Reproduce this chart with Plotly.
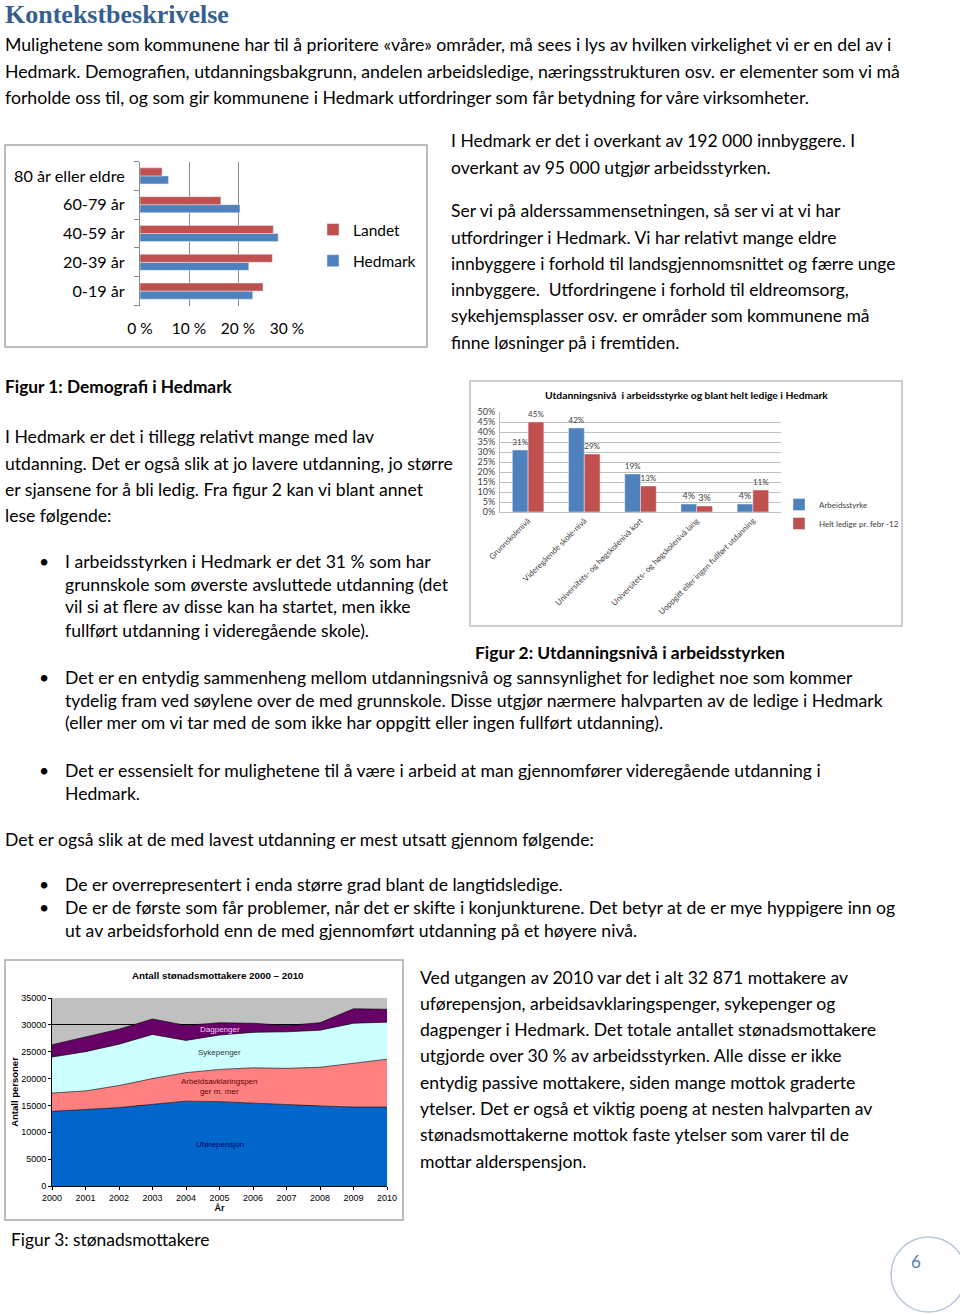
import plotly.graph_objects as go

W, H = 960, 1315
BODY = "Lato"
ARIAL = "Liberation Sans"
INK = "#000000"

# Figur 1: Demografi i Hedmark (andel av befolkningen, %)
age_groups = ["0-19 år", "20-39 år", "40-59 år", "60-79 år", "80 år eller eldre"]
landet = [25.1, 27.0, 27.2, 16.5, 4.5]
hedmark = [23.0, 22.2, 28.2, 20.4, 5.8]

# Figur 2: Utdanningsnivå (%)
edu_levels = [
    "Grunnskolenivå",
    "Videregående skole-nivå",
    "Universitets- og høgskolenivå kort",
    "Universitets- og høgskolenivå lang",
    "Uoppgitt eller ingen fullført utdanning",
]
arbeidsstyrke = [31, 42, 19, 4, 4]
helt_ledige = [45, 29, 13, 3, 11]

# Figur 3: Antall stønadsmottakere 2000-2010
years = [2000, 2001, 2002, 2003, 2004, 2005, 2006, 2007, 2008, 2009, 2010]
uforepensjon = [13900, 14200, 14600, 15200, 15800, 15700, 15400, 15100, 14900, 14700, 14700]
arbeidsavklaring = [3400, 3500, 4100, 4800, 5300, 6000, 6600, 6800, 7200, 8100, 8900]
sykepenger = [6700, 7300, 7700, 8200, 6000, 6400, 6600, 6800, 6900, 7500, 6900]
dagpenger = [2300, 2700, 2800, 2900, 2800, 2300, 1700, 1200, 1400, 2700, 2400]

intro = [
    "Mulighetene som kommunene har til å prioritere «våre» områder, må sees i lys av hvilken virkelighet vi er en del av i",
    "Hedmark. Demografien, utdanningsbakgrunn, andelen arbeidsledige, næringsstrukturen osv. er elementer som vi må",
    "forholde oss til, og som gir kommunene i Hedmark utfordringer som får betydning for våre virksomheter.",
]
right_a = [
    "I Hedmark er det i overkant av 192 000 innbyggere. I",
    "overkant av 95 000 utgjør arbeidsstyrken.",
]
right_b = [
    "Ser vi på alderssammensetningen, så ser vi at vi har",
    "utfordringer i Hedmark. Vi har relativt mange eldre",
    "innbyggere i forhold til landsgjennomsnittet og færre unge",
    "innbyggere.  Utfordringene i forhold til eldreomsorg,",
    "sykehjemsplasser osv. er områder som kommunene må",
    "finne løsninger på i fremtiden.",
]
left_a = [
    "I Hedmark er det i tillegg relativt mange med lav",
    "utdanning. Det er også slik at jo lavere utdanning, jo større",
    "er sjansene for å bli ledig. Fra figur 2 kan vi blant annet",
    "lese følgende:",
]
bullet_1 = [
    "I arbeidsstyrken i Hedmark er det 31 % som har",
    "grunnskole som øverste avsluttede utdanning (det",
    "vil si at flere av disse kan ha startet, men ikke",
    "fullført utdanning i videregående skole).",
]
bullet_2 = [
    "Det er en entydig sammenheng mellom utdanningsnivå og sannsynlighet for ledighet noe som kommer",
    "tydelig fram ved søylene over de med grunnskole. Disse utgjør nærmere halvparten av de ledige i Hedmark",
    "(eller mer om vi tar med de som ikke har oppgitt eller ingen fullført utdanning).",
]
bullet_3 = [
    "Det er essensielt for mulighetene til å være i arbeid at man gjennomfører videregående utdanning i",
    "Hedmark.",
]
bullet_4 = ["De er overrepresentert i enda større grad blant de langtidsledige."]
bullet_5 = [
    "De er de første som får problemer, når det er skifte i konjunkturene. Det betyr at de er mye hyppigere inn og",
    "ut av arbeidsforhold enn de med gjennomført utdanning på et høyere nivå.",
]
right_c = [
    "Ved utgangen av 2010 var det i alt 32 871 mottakere av",
    "uførepensjon, arbeidsavklaringspenger, sykepenger og",
    "dagpenger i Hedmark. Det totale antallet stønadsmottakere",
    "utgjorde over 30 % av arbeidsstyrken. Alle disse er ikke",
    "entydig passive mottakere, siden mange mottok graderte",
    "ytelser. Det er også et viktig poeng at nesten halvparten av",
    "stønadsmottakerne mottok faste ytelser som varer til de",
    "mottar alderspensjon.",
]


def px(x):
    return x / W


def py(y):
    return 1 - y / H


fig = go.Figure()

# --- Figur 1 ---
fig.add_trace(
    go.Bar(
        y=age_groups, x=hedmark, orientation="h", name="Hedmark",
        marker_color="#4F81BD", xaxis="x", yaxis="y",
        legend="legend", legendgroup="hedmark", legendrank=2,
    )
)
fig.add_trace(
    go.Bar(
        y=age_groups, x=landet, orientation="h", name="Landet",
        marker_color="#C0504D", xaxis="x", yaxis="y",
        legend="legend", legendgroup="landet", legendrank=1,
    )
)

# --- Figur 2 ---
fig.add_trace(
    go.Bar(
        x=edu_levels, y=arbeidsstyrke, name="Arbeidsstyrke",
        marker_color="#4F81BD", xaxis="x2", yaxis="y2",
        text=[f"{v}%" for v in arbeidsstyrke], textposition="outside",
        textfont={"family": BODY, "size": 9, "color": "#404040"},
        cliponaxis=False, legend="legend2", legendgroup="arb",
    )
)
fig.add_trace(
    go.Bar(
        x=edu_levels, y=helt_ledige, name="Helt ledige pr. febr -12",
        marker_color="#C0504D", xaxis="x2", yaxis="y2",
        text=[f"{v}%" for v in helt_ledige], textposition="outside",
        textfont={"family": BODY, "size": 9, "color": "#404040"},
        cliponaxis=False, legend="legend2", legendgroup="led",
    )
)

# --- Figur 3 ---
for name, vals, color in [
    ("Uførepensjon", uforepensjon, "#0066CC"),
    ("Arbeidsavklaringspenger", arbeidsavklaring, "#FF8080"),
    ("Sykepenger", sykepenger, "#CCFFFF"),
    ("Dagpenger", dagpenger, "#660066"),
]:
    fig.add_trace(
        go.Scatter(
            x=years, y=vals, name=name, stackgroup="stonad", mode="lines",
            line={"color": "#000000", "width": 0.6}, fillcolor=color,
            xaxis="x3", yaxis="y3", showlegend=False,
        )
    )

fig.update_layout(
    width=W,
    height=H,
    margin={"l": 0, "r": 0, "t": 0, "b": 0, "autoexpand": False},
    paper_bgcolor="white",
    plot_bgcolor="rgba(0,0,0,0)",
    barmode="group",
    bargap=0.44,
    bargroupgap=0,
    font={"family": BODY, "color": INK},
    xaxis={
        "domain": [px(140), px(287)], "anchor": "y", "range": [0, 30],
        "dtick": 10, "ticksuffix": " %", "showgrid": True, "automargin": False,
        "gridcolor": "#8C8C8C", "zeroline": False, "showline": False,
        "tickfont": {"size": 15.5}, "ticklabelstandoff": 12,
    },
    yaxis={
        "domain": [py(305.5), py(161.5)], "anchor": "x", "type": "category",
        "showline": True, "linecolor": "#8C8C8C", "ticks": "outside", "automargin": False,
        "tickson": "boundaries", "ticklen": 5, "tickcolor": "#8C8C8C",
        "tickfont": {"size": 16.2}, "ticklabelstandoff": 11, "showgrid": False,
    },
    xaxis2={
        "domain": [px(500), px(781)], "anchor": "y2", "type": "category",
        "tickangle": -45, "tickfont": {"size": 8, "color": "#404040"}, "automargin": False,
        "showline": True, "linecolor": "#BFBFBF",
    },
    yaxis2={
        "domain": [py(512), py(412)], "anchor": "x2", "range": [0, 50], "automargin": False,
        "dtick": 5, "ticksuffix": "%", "gridcolor": "#BFBFBF",
        "zeroline": False, "showline": True, "linecolor": "#BFBFBF",
        "tickfont": {"size": 9, "color": "#404040"}, "ticklabelstandoff": 2,
    },
    xaxis3={
        "domain": [px(52), px(387)], "anchor": "y3", "range": [2000, 2010], "automargin": False,
        "dtick": 1, "showgrid": False, "showline": True, "linecolor": "#000000",
        "ticks": "outside", "ticklen": 3, "tickcolor": "#000000",
        "tickfont": {"family": ARIAL, "size": 9},
        "title": {"text": "<b>År</b>", "font": {"family": ARIAL, "size": 9}, "standoff": 1},
    },
    yaxis3={
        "domain": [py(1186), py(998)], "anchor": "x3", "range": [0, 35000], "automargin": False,
        "dtick": 5000, "tickformat": "d", "gridcolor": "#000000", "gridwidth": 0.6,
        "showline": True, "linecolor": "#000000", "zeroline": False,
        "ticks": "outside", "ticklen": 3, "tickcolor": "#000000",
        "tickfont": {"family": ARIAL, "size": 9},
        "title": {"text": "<b>Antall personer</b>", "font": {"family": ARIAL, "size": 9.5}, "standoff": 0},
    },
    legend={
        "x": px(313), "y": py(213), "xanchor": "left", "yanchor": "top",
        "font": {"size": 15.5}, "traceorder": "grouped",
        "tracegroupgap": 8, "bgcolor": "rgba(0,0,0,0)",
    },
    legend2={
        "x": px(779), "y": py(490), "xanchor": "left", "yanchor": "top",
        "font": {"size": 8, "color": "#404040"}, "traceorder": "grouped",
        "tracegroupgap": 0, "bgcolor": "rgba(0,0,0,0)",
    },
)

# chart frames and page marker
fig.add_shape(type="rect", xref="paper", yref="paper", x0=px(5), x1=px(427), y0=py(347), y1=py(145),
              line={"color": "#A6A6A6", "width": 1.5})
fig.add_shape(type="rect", xref="paper", yref="paper", x0=px(470), x1=px(902), y0=py(626), y1=py(381),
              line={"color": "#BFBFBF", "width": 1.5})
fig.add_shape(type="rect", xref="paper", yref="paper", x0=px(5), x1=px(403), y0=py(1220), y1=py(960),
              line={"color": "#A6A6A6", "width": 1.5})
fig.add_shape(type="rect", xref="x3 domain", yref="y3 domain", x0=0, x1=1, y0=0, y1=1,
              fillcolor="#C0C0C0", line={"width": 0}, layer="below")
fig.add_shape(type="circle", xref="paper", yref="paper", x0=px(891), x1=px(966), y0=py(1312), y1=py(1237),
              line={"color": "#B8C8DC", "width": 1.5})


def txt(x, y, s, size=17.6, bold=False, family=BODY, color=INK, xref="paper", yref="paper", **kw):
    fig.add_annotation(
        x=px(x) if xref == "paper" else x, y=py(y) if yref == "paper" else y,
        xref=xref, yref=yref, text=f"<b>{s}</b>" if bold else s, showarrow=False,
        xanchor=kw.pop("xanchor", "left"), yanchor="middle",
        font={"family": family, "size": size, "color": color}, **kw,
    )


def block(x, y0, dy, lines, size=17.6):
    for i, line in enumerate(lines):
        txt(x, y0 + i * dy, line, size=size)


def bullets(y0, dy, lines, size=17.6):
    txt(37, y0, "•", size=size)
    block(63, y0, dy, lines, size=size)


txt(3, 14, "Kontekstbeskrivelse", size=26, bold=True, family="Liberation Serif", color="#365F91")
block(3, 45, 26.2, intro, size=17.7)
block(449, 141, 26.3, right_a, size=17.5)
block(449, 211, 26.2, right_b, size=17.5)
txt(3, 386, "Figur 1: Demografi i Hedmark", size=17.3, bold=True)
block(3, 437, 26.3, left_a)
bullets(561, 23, bullet_1)
txt(473, 652, "Figur 2: Utdanningsnivå i arbeidsstyrken", size=17.4, bold=True)
bullets(677, 23, bullet_2)
bullets(770, 23, bullet_3)
txt(3, 839, "Det er også slik at de med lavest utdanning er mest utsatt gjennom følgende:")
bullets(884, 23, bullet_4)
bullets(907, 23, bullet_5)
block(418, 977, 26.3, right_c)
txt(9, 1239, "Figur 3: stønadsmottakere", size=17.4)
txt(916, 1261, "6", size=17, color="#4F81BD", xanchor="center")

# chart titles
txt(686, 395, "Utdanningsnivå  i arbeidsstyrke og blant helt ledige i Hedmark", size=10.3, bold=True,
    xanchor="center")
txt(218, 975, "Antall stønadsmottakere 2000 – 2010", size=9.8, bold=True, family=ARIAL,
    xanchor="center")

# labels inside the area chart
for label, yv, color in [
    ("Dagpenger", 29200, "#FFCCFF"),
    ("Sykepenger", 24800, "#333333"),
    ("Arbeidsavklaringspen<br>ger m. mer", 18500, "#660000"),
    ("Uførepensjon", 7750, "#000066"),
]:
    txt(2005, yv, label, size=8, family=ARIAL, color=color, xref="x3", yref="y3", xanchor="center")

fig.write_html(
    "out.html",
    config={"displayModeBar": False},
    post_script=(
        "document.body.style.margin='0';"
        "document.body.style.overflow='hidden';"
        "document.documentElement.style.overflow='hidden';"
    ),
)
